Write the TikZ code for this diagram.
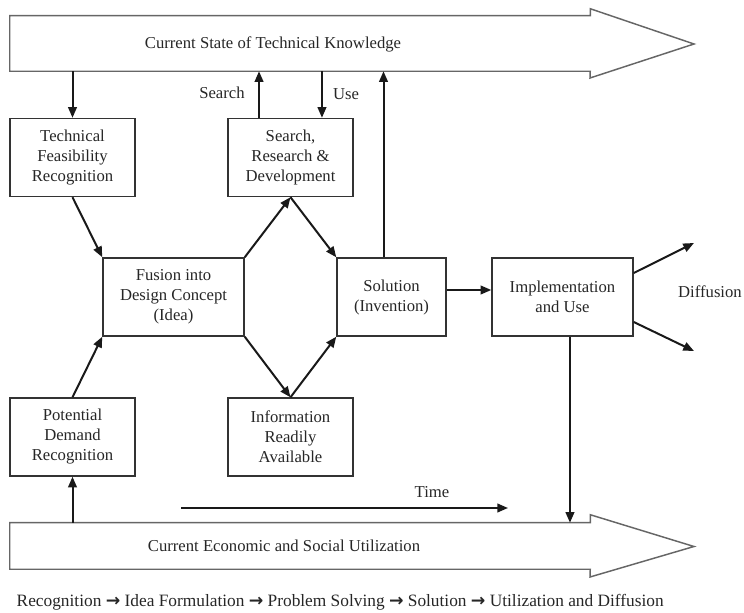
\documentclass[tikz,border=0pt]{standalone}
\usepackage{fontspec}
\setmainfont{Liberation Serif}
\newfontfamily\arrowfont{DejaVu Sans}
\usetikzlibrary{arrows.meta}
\colorlet{boxLine}{black!80}
\colorlet{bandLine}{black!60}
\colorlet{flowLine}{black!90}
\colorlet{labelText}{black!85}
\newcommand{\stepto}{ {\arrowfont\bfseries →} }

\begin{document}
\begin{tikzpicture}[
  x=0.75pt,
  y=-0.75pt,
  every node/.style={
    font=\fontsize{12.5}{15}\selectfont,
    text=labelText,
  },
  stage/.style={
    draw=boxLine,
    line width=1.1pt,
    align=center,
    inner sep=0pt,
    minimum width=93.75pt,
    minimum height=58.5pt,
  },
  wide stage/.style={
    stage,
    minimum width=105.75pt,
  },
  band/.style={
    minimum width=435pt,
    inner sep=0pt,
  },
  band line/.style={
    draw=bandLine,
    line width=1.1pt,
    line join=miter,
  },
  flow/.style={
    draw=flowLine,
    line width=1.5pt,
    -{Triangle[length=8pt,width=6.5pt]},
  },
]
\useasboundingbox (0,0) rectangle (744,613);

% the two bands
\node[band,minimum height=41.25pt] (know) at (300,43.5) {};
\node[band,minimum height=34.5pt] (util) at (300,546) {};
\draw[band line] (know.north west) -- (know.north east) -- +(0,-7)
  -- (694,44) -- (590,78) -- (know.south east) -- (know.south west) -- cycle;
\draw[band line] (util.north west) -- (util.north east) -- +(0,-8)
  -- (694,546.5) -- (590,577) -- (util.south east) -- (util.south west) -- cycle;
\node (knowtxt) at (273,44) {Current State of Technical Knowledge};
\node (utiltxt) at (284,546) {Current Economic and Social Utilization};

% stages
\node[stage] (tech) at (72.5,157.5) {Technical\\Feasibility\\Recognition};
\node[stage] (demand) at (72.5,437) {Potential\\Demand\\Recognition};
\node[wide stage] (fusion) at (173.5,297) {Fusion into\\Design Concept\\(Idea)};
\node[stage] (srd) at (290.5,157.5) {Search,\\Research \&\\Development};
\node[stage] (info) at (290.5,437) {Information\\Readily\\Available};
\node[stage,minimum width=81.75pt] (sol) at (391.5,297) {Solution\\(Invention)};
\node[wide stage] (impl) at (562.5,297) {Implementation\\and Use};

% flows through the stages
\foreach \a/\b in {tech.south/fusion.north west,
                   demand.north/fusion.south west,
                   fusion.north east/srd.south,
                   srd.south/sol.north west,
                   fusion.south east/info.north,
                   info.north/sol.south west}
  \draw[flow] (\a) -- (\b);
\draw[flow] ([yshift=5.25pt]sol.east) -- ([yshift=5.25pt]impl.west);

% to and from the bands
\coordinate (srchfoot) at ([xshift=-23.6pt]srd.north);
\coordinate (usefoot) at ([xshift=23.6pt]srd.north);
\coordinate (solfoot) at ([xshift=-6pt]sol.north);
\coordinate (implfoot) at ([xshift=5.6pt]impl.south);
\draw[flow] (know.south -| tech.north) -- (tech.north);
\draw[flow] (srchfoot) -- (srchfoot |- know.south);
\draw[flow] (usefoot |- know.south) -- (usefoot);
\draw[flow] (solfoot) -- (solfoot |- know.south);
\draw[flow] (implfoot) -- (implfoot |- util.north);
\draw[flow] (util.north -| demand.south) -- (demand.south);
\node (srchtxt) at (222,93) {Search};
\node (usetxt) at (346,94) {Use};

% diffusion
\coordinate (difup) at (694,243);
\coordinate (difdown) at (694,351);
\draw[flow] ([yshift=18pt]impl.east) -- (difup);
\draw[flow] ([yshift=-18.75pt]impl.east) -- (difdown);
\node (diftxt) at (710,292) {Diffusion};

% time
\coordinate (t0) at (181,508);
\coordinate (t1) at (508,508);
\draw[flow] (t0) -- (t1);
\node (timetxt) at (432,492) {Time};

\node[anchor=west,font=\fontsize{13}{15}\selectfont] (steps) at (12,602)
  {Recognition\stepto Idea Formulation\stepto Problem Solving\stepto Solution\stepto Utilization and Diffusion};
\end{tikzpicture}
\end{document}
